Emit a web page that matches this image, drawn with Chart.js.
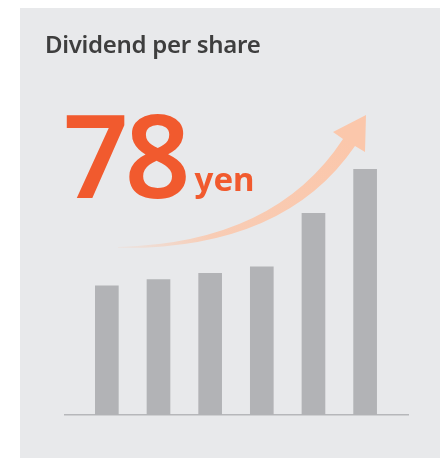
<!DOCTYPE html>
<html>
<head>
<meta charset="utf-8">
<script src="https://cdn.jsdelivr.net/npm/chart.js@4/dist/chart.umd.min.js"></script>
<style>
  html, body { margin: 0; padding: 0; background: #fff; }
  #wrap { position: relative; width: 440px; height: 458px; overflow: hidden; }
  #panel { position: absolute; left: 20px; top: 8px; width: 420px; height: 450px; background: #e8e9eb; }
  #title { position: absolute; left: 45px; top: 27px; font-family: "Noto Sans", sans-serif; font-weight: 600;
           font-size: 24px; color: #3e3e3e; white-space: nowrap; letter-spacing: -0.3px; }
  #big { position: absolute; left: 63px; top: 96px; font-family: "Noto Sans", sans-serif; font-weight: 600;
         color: #f15a2e; white-space: nowrap; line-height: 1; }
  #big .num { font-size: 115px; letter-spacing: -4px; }
  #big .unit { font-size: 33px; font-weight: 700; margin-left: 8px; position: relative; top: -7px; }
  #arrow { position: absolute; left: 0; top: 0; }
  canvas { position: absolute; left: 0; top: 0; }
</style>
</head>
<body>
<div id="wrap">
  <div id="panel"></div>
  <svg id="arrow" width="440" height="458">
    <defs>
      <linearGradient id="fade" gradientUnits="userSpaceOnUse" x1="118" y1="247" x2="350" y2="140">
        <stop offset="0" stop-color="#fbc7ab" stop-opacity="0.15"/>
        <stop offset="0.35" stop-color="#fbc7ab" stop-opacity="0.85"/>
        <stop offset="1" stop-color="#fbc7ab" stop-opacity="1"/>
      </linearGradient>
    </defs>
    <path d="M 118 247 Q 275 243 343 139 L 333 132 L 366 115 L 365 152 L 355 146 Q 284 250 118 248 Z" fill="url(#fade)"/>
  </svg>
  <canvas id="barChart" width="440" height="458"></canvas>
  <div id="title">Dividend per share</div>
  <div id="big"><span class="num">78</span><span class="unit">yen</span></div>
</div>
<script>
// Dividend per share, yen (last bar = 78)
const categories = ['1', '2', '3', '4', '5', '6'];
const dividends = [41, 43, 45, 47, 64, 78];

const ctx = document.getElementById('barChart');
new Chart(ctx, {
  type: 'bar',
  data: {
    labels: categories,
    datasets: [{
      label: 'Dividend per share',
      data: dividends.map((v, i) => ({ x: i + 1, y: v })),
      backgroundColor: '#b2b3b6',
      barThickness: 23
    }]
  },
  options: {
    responsive: false,
    animation: false,
    layout: { padding: { left: 65, right: 32, top: 100, bottom: 43 } },
    plugins: { legend: { display: false }, tooltip: { enabled: false } },
    scales: {
      x: {
        type: 'linear',
        offset: false,
        min: 0.19,
        max: 6.83,
        ticks: { display: false },
        grid: { display: false, drawTicks: false },
        border: { display: true, color: '#b6b7ba', width: 1.5 }
      },
      y: {
        display: false,
        min: 0,
        max: 100
      }
    }
  }
});
</script>
</body>
</html>
